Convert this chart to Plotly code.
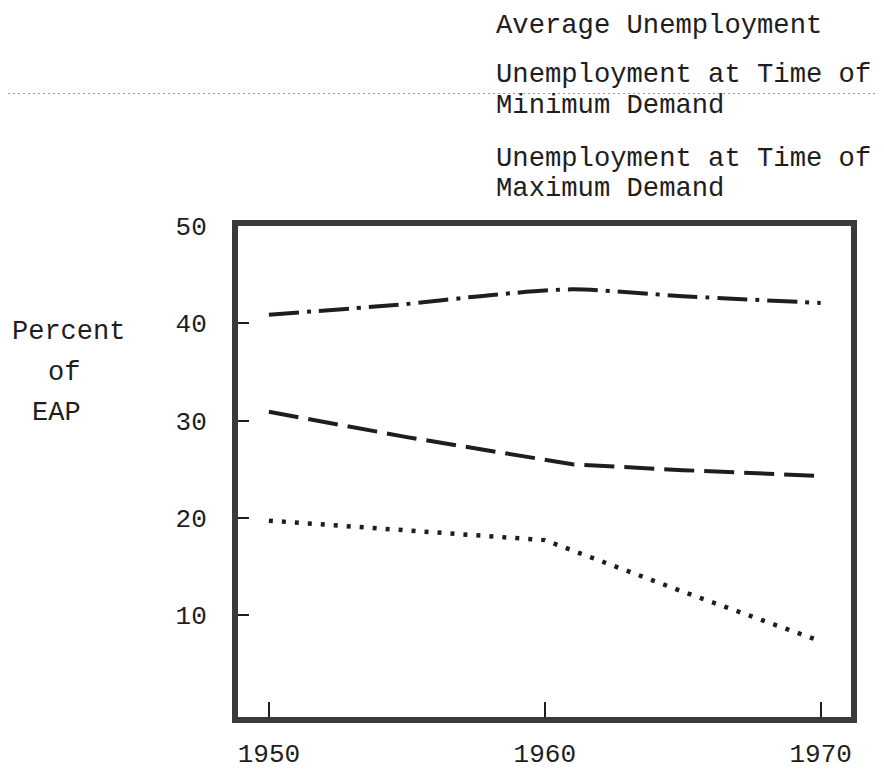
import plotly.graph_objects as go

# ---- data ----
years_min_demand = [1950, 1955, 1958, 1961, 1965, 1970]
unemp_min_demand = [40.9, 42.0, 42.9, 43.5, 42.8, 42.1]

years_average = [1950, 1955, 1961, 1965, 1970]
unemp_average = [30.9, 28.3, 25.5, 24.9, 24.3]

years_max_demand = [1950, 1955, 1960, 1965, 1970]
unemp_max_demand = [19.7, 18.7, 17.7, 12.4, 7.3]

x_tick_vals = [1950, 1960, 1970]
x_tick_text = ["1950", "1960", "1970"]
y_tick_vals = [10, 20, 30, 40, 50]
y_tick_text = ["10", "20", "30", "40", "50"]

legend_lines = [
    "Average Unemployment",
    "Unemployment at Time of",
    "Minimum Demand",
    "Unemployment at Time of",
    "Maximum Demand",
]
y_title_lines = ["Percent", "of", "EAP"]

# ---- layout geometry (pixels) ----
W, H = 884, 774
L, R, T, B = 230, 41, 218, 52
PW, PH = W - L - R, H - T - B


def px_x(px):
    return (px - L) / PW


def px_y(py):
    return (H - B - py) / PH


FONT = "Liberation Mono, Courier New, monospace"
INK = "#1e1e1e"

fig = go.Figure()
fig.add_trace(go.Scatter(
    x=years_min_demand, y=unemp_min_demand, mode="lines",
    name="Unemployment at Time of Minimum Demand",
    line=dict(color=INK, width=4, dash="30px,8px,4px,8px", shape="spline", smoothing=0.8),
))
fig.add_trace(go.Scatter(
    x=years_average, y=unemp_average, mode="lines",
    name="Average Unemployment",
    line=dict(color=INK, width=4, dash="30px,10px"),
))
fig.add_trace(go.Scatter(
    x=years_max_demand, y=unemp_max_demand, mode="lines",
    name="Unemployment at Time of Maximum Demand",
    line=dict(color=INK, width=4.5, dash="4px,9px"),
))

annotations = []
legend_y = [12, 63, 94, 149, 180]
for txt, yy in zip(legend_lines, legend_y):
    annotations.append(dict(
        text=txt, x=px_x(486), y=px_y(yy), xref="paper", yref="paper",
        xanchor="left", yanchor="middle", showarrow=False,
        font=dict(family=FONT, size=27.2, color=INK),
    ))

title_pos = [(2, 327), (38, 369), (22, 410)]
for txt, (xx, yy) in zip(y_title_lines, title_pos):
    annotations.append(dict(
        text=txt, x=px_x(xx), y=px_y(yy), xref="paper", yref="paper",
        xanchor="left", yanchor="middle", showarrow=False,
        font=dict(family=FONT, size=27, color=INK),
    ))

fig.update_layout(
    width=W, height=H,
    margin=dict(l=L, r=R, t=T, b=B, pad=0),
    paper_bgcolor="white", plot_bgcolor="white",
    showlegend=False,
    annotations=annotations,
    shapes=[dict(
        type="line", xref="paper", yref="paper",
        x0=px_x(0), x1=px_x(884), y0=px_y(82), y1=px_y(82),
        line=dict(color="#9a9a9a", width=1, dash="2px,3px"), layer="below",
    )],
)

fig.update_xaxes(
    range=[1948.88, 1971.1],
    tickvals=x_tick_vals, ticktext=x_tick_text,
    ticks="inside", ticklen=15, tickwidth=2, tickcolor=INK,
    showgrid=False, zeroline=False,
    showline=True, linewidth=6, linecolor="#3a3a3a", mirror=True,
    tickfont=dict(family=FONT, size=26, color=INK),
    ticklabelstandoff=8,
)
fig.update_yaxes(
    range=[-0.5, 50.02],
    tickvals=y_tick_vals, ticktext=y_tick_text,
    ticks="inside", ticklen=11, tickwidth=2, tickcolor=INK,
    showgrid=False, zeroline=False,
    showline=True, linewidth=6, linecolor="#3a3a3a", mirror=True,
    tickfont=dict(family=FONT, size=26, color=INK),
    ticklabelstandoff=20,
)

fig.write_html("out.html")
